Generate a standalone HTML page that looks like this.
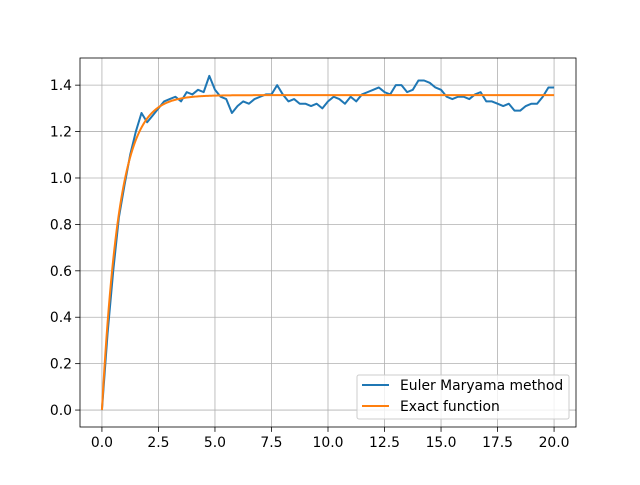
<!DOCTYPE html>
<html><head><meta charset="utf-8"><style>
body{margin:0;background:#fff}
svg text{font-family:"DejaVu Sans","Liberation Sans",sans-serif;font-size:13.9px;fill:#000}
</style></head><body>
<svg id="c" width="640" height="480" xmlns="http://www.w3.org/2000/svg">
<rect width="640" height="480" fill="#fff"/>
<g id="grid"></g><g id="series"></g><g id="axes"></g>
<g>
<rect x="357" y="375" width="212" height="44" rx="2" fill="#fff" fill-opacity="0.8" stroke="#ccc"/>
<line x1="362" y1="385" x2="389" y2="385" stroke="#1f77b4" stroke-width="2"/>
<text x="400" y="390">Euler Maryama method</text>
<line x1="362" y1="406" x2="389" y2="406" stroke="#ff7f0e" stroke-width="2"/>
<text x="400" y="411">Exact function</text>
</g>
</svg>
<script>
const tValues=[0,0.25,0.5,0.75,1,1.25,1.5,1.75,2,2.25,2.5,2.75,3,3.25,3.5,3.75,4,4.25,4.5,4.75,5,5.25,5.5,5.75,6,6.25,6.5,6.75,7,7.25,7.5,7.75,8,8.25,8.5,8.75,9,9.25,9.5,9.75,10,10.25,10.5,10.75,11,11.25,11.5,11.75,12,12.25,12.5,12.75,13,13.25,13.5,13.75,14,14.25,14.5,14.75,15,15.25,15.5,15.75,16,16.25,16.5,16.75,17,17.25,17.5,17.75,18,18.25,18.5,18.75,19,19.25,19.5,19.75,20];
const eulerValues=[0,0.33,0.6,0.83,0.97,1.1,1.2,1.28,1.24,1.27,1.3,1.33,1.34,1.35,1.33,1.37,1.36,1.38,1.37,1.44,1.38,1.35,1.34,1.28,1.31,1.33,1.32,1.34,1.35,1.36,1.36,1.4,1.36,1.33,1.34,1.32,1.32,1.31,1.32,1.3,1.33,1.35,1.34,1.32,1.35,1.33,1.36,1.37,1.38,1.39,1.37,1.36,1.4,1.4,1.37,1.38,1.42,1.42,1.41,1.39,1.38,1.35,1.34,1.35,1.35,1.34,1.36,1.37,1.33,1.33,1.32,1.31,1.32,1.29,1.29,1.31,1.32,1.32,1.35,1.39,1.39];
const exactLimit=1.357, exactRate=1.3;
const xTicks=[0,2.5,5,7.5,10,12.5,15,17.5,20];
const xTickLabels=["0.0","2.5","5.0","7.5","10.0","12.5","15.0","17.5","20.0"];
const yTicks=[0,0.2,0.4,0.6,0.8,1.0,1.2,1.4];
const yTickLabels=["0.0","0.2","0.4","0.6","0.8","1.0","1.2","1.4"];
const L=80,R=576,T=58,B=427,xmin=-0.97,xmax=20.97,ymin=-0.073,ymax=1.517;
const X=v=>L+(v-xmin)/(xmax-xmin)*(R-L), Y=v=>B-(v-ymin)/(ymax-ymin)*(B-T);
const NS="http://www.w3.org/2000/svg";
function mk(p,tag,a){const e=document.createElementNS(NS,tag);for(const k in a)e.setAttribute(k,a[k]);p.appendChild(e);return e;}
const grid=document.getElementById('grid'),ax=document.getElementById('axes'),se=document.getElementById('series');
xTicks.forEach((t,i)=>{const x=X(t);
 const g=mk(grid,'line',{x1:x,x2:x,y1:T,y2:B,stroke:'#b0b0b0','stroke-width':0.8});
 
 
 mk(ax,'line',{x1:x,x2:x,y1:B,y2:B+4.9,stroke:'#000','stroke-width':0.8});
 const tx=mk(ax,'text',{x:x,y:B+20,'text-anchor':'middle'});tx.textContent=xTickLabels[i];
 
 
});
yTicks.forEach((t,i)=>{const y=Y(t);
 const g=mk(grid,'line',{x1:L,x2:R,y1:y,y2:y,stroke:'#b0b0b0','stroke-width':0.8});
 
 
 mk(ax,'line',{x1:L-4.9,x2:L,y1:y,y2:y,stroke:'#000','stroke-width':0.8});
 const tx=mk(ax,'text',{x:L-8,y:y+5,'text-anchor':'end'});tx.textContent=yTickLabels[i];
 
 
});
const fr=mk(ax,'rect',{x:L,y:T,width:R-L,height:B-T,fill:'none',stroke:'#000','stroke-width':0.8});


const p1=mk(se,'polyline',{points:tValues.map((t,i)=>X(t)+','+Y(eulerValues[i])).join(' '),fill:'none',stroke:'#1f77b4','stroke-width':2,'stroke-linejoin':'round'});


const pts=[];for(let i=0;i<=400;i++){const t=i*0.05;pts.push(X(t)+','+Y(exactLimit*(1-Math.exp(-exactRate*t))));}
const p2=mk(se,'polyline',{points:pts.join(' '),fill:'none',stroke:'#ff7f0e','stroke-width':2});


</script>
</body></html>
